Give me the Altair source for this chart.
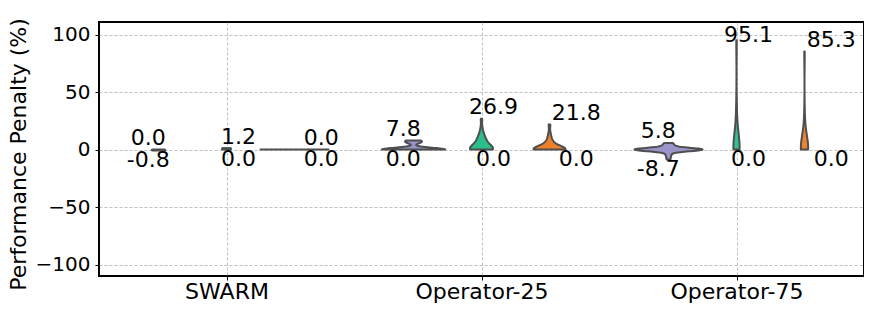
import json
import numpy as np
import pandas as pd
import altair as alt

groups = ["SWARM", "Operator-25", "Operator-75"]
series = ["A", "B", "C"]
colors = ["#9c98cc", "#2dbf8d", "#ec812e"]

# samples read/ (min and max are the labelled values)
swarm_a = [0.0, -0.8]
swarm_b = [0.0, 1.2]
swarm_c = [0.0, 0.0, 0.0, 0.0, 0.0]
op25_a = [0.0, 0.0, 0.0, 0.0, 0.0, 0.0, 0.0, 0.0, 0.0, 0.0,
          0.0, 0.0, 0.0, 0.0, 0.0, 0.0, 0.0, 0.0, 0.0, 0.0,
          0.5, 6.0, 6.5, 7.0, 7.2, 7.5, 7.8]
op25_b = [0.0, 0.0, 0.0, 0.0, 0.0, 0.0, 0.0, 0.0, 0.0, 0.0, 0.0, 0.0, 0.0,
          1.0, 2.0, 3.0, 4.0, 5.0, 6.0, 7.0, 8.0, 9.0, 10.0, 12.0, 14.0, 18.0, 26.9]
op25_c = [0.0, 0.0, 0.0, 0.0, 0.0, 0.0, 0.0, 0.0, 0.0, 0.0, 0.0, 0.0, 0.0, 0.0, 0.0, 0.0,
          1.0, 2.0, 3.0, 4.0, 5.0, 6.0, 8.0, 10.0, 14.0, 21.8]
op75_a = [0.0, 0.0, 0.0, 0.0, 0.0, 0.0, 0.0, 0.0, 0.0, 0.0,
          0.0, 0.0, 0.0, 0.0, 0.0, 0.0, 0.0, 0.0, 0.0, 0.0,
          2.0, 3.0, 4.0, 5.0, 5.8, -2.0, -4.0, -6.0, -8.7]
op75_b = [0.0, 0.0, 0.0, 0.0, 0.0, 0.0, 0.0, 0.0, 0.0, 0.0, 0.0, 0.0, 0.0,
          3.0, 6.0, 10.0, 15.0, 25.0, 35.0, 95.1]
op75_c = [0.0, 0.0, 0.0, 0.0, 0.0, 0.0, 0.0, 0.0, 0.0, 0.0, 0.0, 0.0, 0.0, 0.0,
          3.0, 6.0, 10.0, 16.0, 28.0, 85.3]

samples = {
    ("SWARM", "A"): swarm_a, ("SWARM", "B"): swarm_b, ("SWARM", "C"): swarm_c,
    ("Operator-25", "A"): op25_a, ("Operator-25", "B"): op25_b, ("Operator-25", "C"): op25_c,
    ("Operator-75", "A"): op75_a, ("Operator-75", "B"): op75_b, ("Operator-75", "C"): op75_c,
}

# Gaussian KDE (Scott bandwidth, cut at data range), width scaled by count
curves = {}
for key, vals in samples.items():
    x = np.asarray(vals, dtype=float)
    if np.unique(x).size == 1:
        curves[key] = (np.array([x[0], x[0]]), None)
        continue
    h = x.std(ddof=1) * len(x) ** -0.2
    grid = np.linspace(x.min(), x.max(), 80)
    dens = np.exp(-0.5 * ((grid[:, None] - x[None, :]) / h) ** 2).sum(1) / (h * np.sqrt(2 * np.pi))
    curves[key] = (grid, dens)
dmax = max(c[1].max() for c in curves.values() if c[1] is not None)

slices = []   # fill: horizontal slices between consecutive density samples
outline = []  # outline: left side upwards, right side downwards, closed
labels = []
for (g, s), (grid, dens) in curves.items():
    d = np.ones_like(grid) if dens is None else dens / dmax
    vid = g + "|" + s
    for i in range(len(grid) - 1):
        if grid[i + 1] > grid[i]:
            slices.append({"group": g, "series": s, "vid": vid,
                           "v0": float(grid[i]), "v1": float(grid[i + 1]),
                           "dens": float(max(d[i], d[i + 1]))})
    n = len(grid)
    path = [(-1, grid[i], d[i]) for i in range(n)] + \
           [(1, grid[i], d[i]) for i in range(n - 1, -1, -1)] + [(-1, grid[0], d[0])]
    for k, (side, v, w) in enumerate(path):
        outline.append({"group": g, "series": s, "vid": vid, "k": k, "side": side,
                        "value": float(v), "dens": float(w)})
    vals = samples[(g, s)]
    labels.append({"group": g, "series": s, "maxv": max(vals), "minv": min(vals)})
sdf = pd.DataFrame(slices)
odf = pd.DataFrame(outline)
ldf = pd.DataFrame(labels)

G = json.dumps(groups)
S = json.dumps(series)
center = f"indexof({G}, datum.group) + (indexof({S}, datum.series) - 1) * 0.8 / 3"
HALF = "0.4 / 3"

xscale = alt.Scale(domain=[-0.5, 2.5], nice=False, zero=False)
yscale = alt.Scale(domain=[-110, 111], nice=False, zero=False)
grid_kw = dict(grid=True, gridDash=[3, 2], gridColor="#b0b0b0", gridWidth=0.8,
               domain=False, tickColor="black", tickSize=4, labelColor="black")
xaxis = alt.Axis(values=[0, 1, 2], labelExpr=f"{G}[datum.value]", title="",
                 labelFontSize=22, labelPadding=1, labelFlush=False, **grid_kw)
yaxis = alt.Axis(values=[-100, -50, 0, 50, 100], title="Performance Penalty (%)",
                 titleFontSize=22, titleFontWeight="normal", titleColor="black",
                 titleX=-81, titleY=132, titleAlign="center", titleBaseline="middle",
                 labelFontSize=20, labelPadding=5, **grid_kw)
cscale = alt.Scale(domain=series, range=colors)

violin_fill = alt.Chart(sdf).transform_calculate(
    center=center
).transform_calculate(
    left=f"datum.center - datum.dens * {HALF}",
    right=f"datum.center + datum.dens * {HALF}",
).mark_rect(strokeWidth=0.6).encode(
    y=alt.Y("v0:Q", scale=yscale, axis=yaxis),
    y2="v1:Q",
    x=alt.X("left:Q", scale=xscale, axis=xaxis),
    x2="right:Q",
    color=alt.Color("series:N", scale=cscale, legend=None),
    stroke=alt.Stroke("series:N", scale=cscale, legend=None),
)

violin_line = alt.Chart(odf).transform_calculate(
    center=center
).transform_calculate(
    px=f"datum.center + datum.side * datum.dens * {HALF}",
).mark_line(color="#4f4f4f", strokeWidth=2, strokeJoin="round", strokeCap="round").encode(
    x=alt.X("px:Q", scale=xscale, axis=xaxis),
    y=alt.Y("value:Q", scale=yscale, axis=yaxis),
    detail="vid:N",
    order=alt.Order("k:Q"),
)

shift = "[-0.04, 0.047, 0.105][indexof(" + S + ", datum.series)]"

max_labels = alt.Chart(ldf).transform_calculate(
    lx=f"{center} + {shift}",
    ty="min(datum.maxv + 10, 100)",
    txt="replace(format(datum.maxv, '.1f'), '\u2212', '-')",
).mark_text(fontSize=22, baseline="middle", align="center", color="black").encode(
    x=alt.X("lx:Q", scale=xscale, axis=xaxis),
    y=alt.Y("ty:Q", scale=yscale, axis=yaxis),
    text="txt:N",
)

min_labels = alt.Chart(ldf).transform_calculate(
    lx=f"{center} + {shift}",
    ty="datum.minv - 8",
    txt="replace(format(datum.minv, '.1f'), '\u2212', '-')",
).mark_text(fontSize=22, baseline="middle", align="center", color="black").encode(
    x=alt.X("lx:Q", scale=xscale, axis=xaxis),
    y=alt.Y("ty:Q", scale=yscale, axis=yaxis),
    text="txt:N",
)

chart = alt.layer(violin_fill, violin_line, max_labels, min_labels).properties(
    width=765, height=254,
    autosize=alt.AutoSizeParams(type="none"),
    padding={"left": 91, "top": 14, "right": 0, "bottom": 30},
).configure(font="DejaVu Sans").configure_view(stroke="black", strokeWidth=2)

chart.save("out.html", embed_options={"renderer": "svg", "actions": False})
